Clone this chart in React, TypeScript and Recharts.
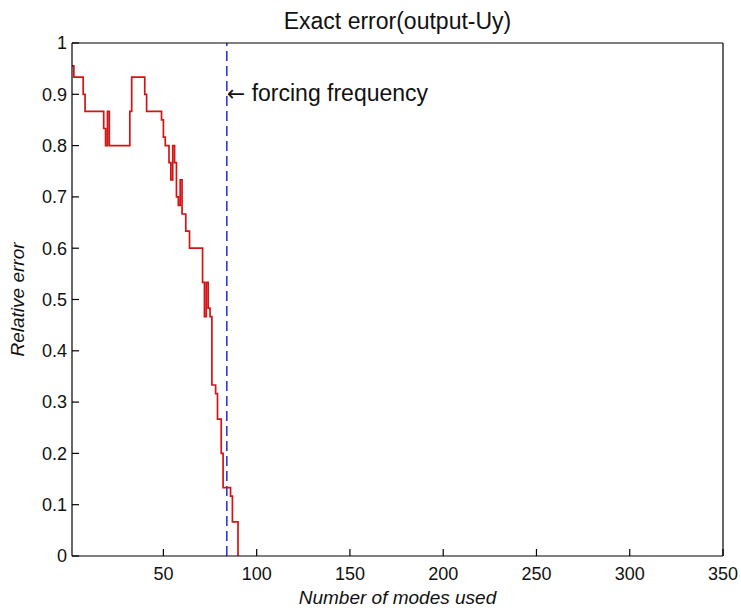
import React from 'react';
import { LineChart, Line, XAxis, YAxis, ReferenceLine, ReferenceDot } from 'recharts';

// Step start points (mode number) and relative error held from that mode on
const modes = [1, 2, 7, 8, 18, 19, 20, 21, 32, 33, 40, 41, 49, 50, 51, 53, 54, 55, 56, 57, 58, 59, 60, 62, 64, 71, 72, 73, 74, 75, 76, 78, 79, 81, 82, 86, 87, 90];
const errors = [0.9556, 0.9333, 0.9, 0.8667, 0.8333, 0.8, 0.8667, 0.8, 0.8667, 0.9333, 0.9, 0.8667, 0.85, 0.8167, 0.8, 0.7667, 0.7333, 0.8, 0.7667, 0.7, 0.6833, 0.7333, 0.6667, 0.6333, 0.6, 0.5333, 0.4667, 0.5333, 0.4833, 0.4667, 0.3333, 0.3167, 0.2667, 0.2, 0.1333, 0.1167, 0.0667, 0];

const xTicks = [50, 100, 150, 200, 250, 300, 350];
const xDomain = [1, 350];
const yTicks = [0, 0.1, 0.2, 0.3, 0.4, 0.5, 0.6, 0.7, 0.8, 0.9, 1];
const yTickLabels = ['0', '0.1', '0.2', '0.3', '0.4', '0.5', '0.6', '0.7', '0.8', '0.9', '1'];

const titleText = 'Exact error(output-Uy)';
const xLabelText = 'Number of modes used';
const yLabelText = 'Relative error';
const forcingMode = 84;
const annotationLevel = 0.9;
const annotationArrow = '\u2190';
const annotationText = ' forcing frequency';

const data = modes.map((m, i) => ({ mode: m, err: errors[i] }));

const FONT = "'Liberation Sans', Arial, Helvetica, sans-serif";
const INK = '#111';

const yFmt = (v: number) => {
  const i = yTicks.findIndex((t) => Math.abs(t - v) < 1e-9);
  return i >= 0 ? yTickLabels[i] : String(v);
};

const TitleContent = (props: any) => {
  const vb = props.viewBox || {};
  return (
    <text x={vb.x + vb.width / 2} y={29} textAnchor="middle" fontSize={23} fontFamily={FONT} fill={INK}>
      {titleText}
    </text>
  );
};

const XLabelContent = (props: any) => {
  const vb = props.viewBox || {};
  return (
    <text x={vb.x + vb.width / 2} y={vb.y + 48} textAnchor="middle" fontSize={19} fontStyle="italic" fontFamily={FONT} fill={INK}>
      {xLabelText}
    </text>
  );
};

const YLabelContent = (props: any) => {
  const vb = props.viewBox || {};
  const cx = 24;
  const cy = vb.y + vb.height / 2;
  return (
    <text x={cx} y={cy} textAnchor="middle" fontSize={19} fontStyle="italic" fontFamily={FONT} fill={INK} transform={`rotate(-90 ${cx} ${cy})`}>
      {yLabelText}
    </text>
  );
};

const AnnotationContent = (props: any) => {
  const vb = props.viewBox || {};
  return (
    <text x={vb.x} y={vb.y + 7} textAnchor="start" fontSize={23} fontFamily={FONT} fill={INK}>
      <tspan fontFamily="'DejaVu Sans', sans-serif" fontSize={22}>{annotationArrow}</tspan>
      <tspan>{annotationText}</tspan>
    </text>
  );
};

const tickStyle = { fontSize: 18, fontFamily: FONT, fill: INK };

export default function App() {
  return (
    <div style={{ position: 'absolute', left: 0, top: 0, width: 741, height: 610, background: '#fff' }}>
      <LineChart width={741} height={610} data={data} margin={{ top: 42, right: 17, bottom: 0, left: 0 }}>
        <XAxis
          dataKey="mode"
          type="number"
          domain={xDomain}
          ticks={xTicks}
          interval={0}
          allowDataOverflow
          height={54}
          tickSize={-7}
          tickMargin={18}
          tick={tickStyle}
          axisLine={{ stroke: '#000', strokeWidth: 1.2 }}
          tickLine={{ stroke: '#000', strokeWidth: 1.2 }}
          label={{ content: XLabelContent }}
        />
        <XAxis
          xAxisId="top"
          orientation="top"
          type="number"
          domain={xDomain}
          ticks={xTicks}
          interval={0}
          allowDataOverflow
          height={1}
          tickSize={-7}
          tick={false}
          axisLine={{ stroke: '#000', strokeWidth: 1.2 }}
          tickLine={{ stroke: '#000', strokeWidth: 1.2 }}
          label={{ content: TitleContent }}
        />
        <YAxis
          type="number"
          domain={[0, 1]}
          ticks={yTicks}
          interval={0}
          allowDataOverflow
          width={72}
          tickSize={-7}
          tickMargin={12}
          tick={tickStyle}
          tickFormatter={yFmt}
          axisLine={{ stroke: '#000', strokeWidth: 1.2 }}
          tickLine={{ stroke: '#000', strokeWidth: 1.2 }}
          label={{ content: YLabelContent }}
        />
        <YAxis
          yAxisId="right"
          orientation="right"
          type="number"
          domain={[0, 1]}
          ticks={yTicks}
          interval={0}
          allowDataOverflow
          width={1}
          tickSize={-7}
          tick={false}
          axisLine={{ stroke: '#000', strokeWidth: 1.2 }}
          tickLine={{ stroke: '#000', strokeWidth: 1.2 }}
        />
        <ReferenceLine x={forcingMode} stroke="#1f2fd0" strokeWidth={1.5} strokeDasharray="10 5" ifOverflow="extendDomain" />
        <Line
          type="stepAfter"
          dataKey="err"
          stroke="#d41414"
          strokeWidth={1.7}
          dot={false}
          activeDot={false}
          isAnimationActive={false}
        />
        <ReferenceDot x={forcingMode} y={annotationLevel} r={0} fill="none" stroke="none" label={{ content: AnnotationContent }} />
      </LineChart>
    </div>
  );
}
